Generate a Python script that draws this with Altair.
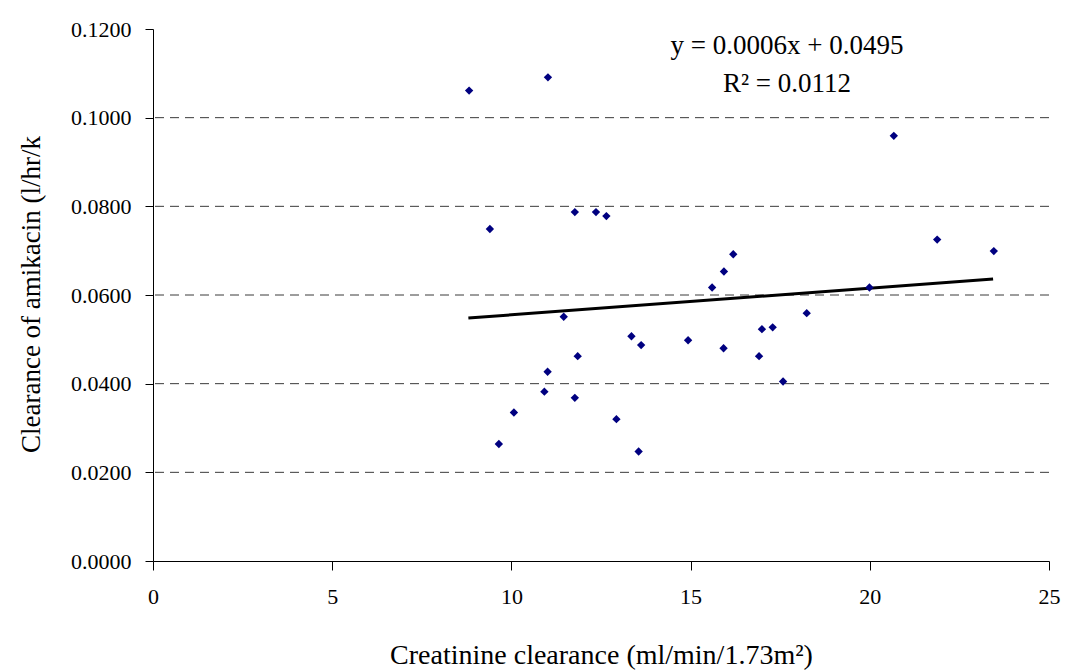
import altair as alt
import pandas as pd

# Creatinine clearance (ml/min/1.73m^2)
crcl = [8.82, 11.02, 9.40, 11.77, 12.36, 12.65, 11.46, 11.85, 11.01, 10.92,
        11.77, 10.07, 9.65, 12.93, 13.55, 13.35, 13.62, 14.93, 15.92, 15.60,
        15.93, 16.19, 16.99, 17.29, 16.91, 17.58, 18.24, 19.99, 20.67, 21.88,
        23.46]
# Clearance of amikacin
amik = [0.1061, 0.1091, 0.0749, 0.0787, 0.0787, 0.0778, 0.0551, 0.0462, 0.0427, 0.0382,
        0.0368, 0.0335, 0.0264, 0.0320, 0.0247, 0.0507, 0.0487, 0.0498, 0.0480, 0.0617,
        0.0653, 0.0692, 0.0523, 0.0527, 0.0462, 0.0405, 0.0559, 0.0617, 0.0959, 0.0725,
        0.0699]

# Trend line end points
trend_x = [8.80, 23.44]
trend_y = [0.0548, 0.0636]

eq_line1 = "y = 0.0006x + 0.0495"
eq_line2 = "R² = 0.0112"

x_ticks = [0, 5, 10, 15, 20, 25]
y_ticks = [0.0, 0.02, 0.04, 0.06, 0.08, 0.10, 0.12]

pts = pd.DataFrame({"x": crcl, "y": amik})
trend = pd.DataFrame({"x": trend_x, "y": trend_y})

FONT = "Liberation Serif"

xscale = alt.Scale(domain=[0, 25], nice=False, zero=True)
yscale = alt.Scale(domain=[0, 0.12], nice=False, zero=True)

xaxis = alt.Axis(values=x_ticks, format="d", grid=False, domainColor="black",
                 tickColor="black", tickSize=9, labelPadding=16, labelFontSize=22,
                 labelFont=FONT, labelColor="black", labelFontWeight="normal",
                 labelFlush=False,
                 title="Creatinine clearance (ml/min/1.73m²)", titleFont=FONT,
                 titleFontSize=28, titleFontWeight="normal", titleColor="black",
                 titleX=448, titleY=94, titleBaseline="middle", titleAlign="center",
                 titleAnchor="middle")
yaxis = alt.Axis(values=y_ticks, format=".4f", grid=False, domainColor="black",
                 tickColor="black", tickSize=8, labelPadding=14, labelFontSize=22,
                 labelFont=FONT, labelColor="black", labelBaseline="middle",
                 labelFlush=False, orient="left",
                 title="Clearance of amikacin (l/hr/k", titleFont=FONT,
                 titleFontSize=27, titleFontWeight="normal", titleColor="black",
                 titleX=-122, titleY=265, titleAngle=-90, titleBaseline="middle",
                 titleAlign="center", titleAnchor="middle")

grid_df = pd.DataFrame({"y": y_ticks[1:-1]})
grid = alt.Chart(grid_df).mark_rule(color="#3a3a3a", strokeWidth=1, strokeDash=[9, 6]).encode(
    y=alt.Y("y:Q", scale=yscale, axis=yaxis)
)

points = alt.Chart(pts).mark_point(shape="diamond", filled=True, color="#000080",
                                   size=70, opacity=1).encode(
    x=alt.X("x:Q", scale=xscale, axis=xaxis),
    y=alt.Y("y:Q", scale=yscale, axis=yaxis),
)

line = alt.Chart(trend).mark_line(color="black", strokeWidth=3).encode(
    x=alt.X("x:Q", scale=xscale, axis=xaxis),
    y=alt.Y("y:Q", scale=yscale, axis=yaxis),
)

eq1 = alt.Chart(pd.DataFrame({"t": [eq_line1]})).mark_text(
    font=FONT, fontSize=27, color="black", align="center", baseline="middle"
).encode(text="t:N", x=alt.value(634), y=alt.value(17))
eq2 = alt.Chart(pd.DataFrame({"t": [eq_line2]})).mark_text(
    font=FONT, fontSize=27, color="black", align="center", baseline="middle"
).encode(text="t:N", x=alt.value(634), y=alt.value(55))

chart = alt.layer(grid, line, points, eq1, eq2).properties(
    width=896, height=532,
    autosize=alt.AutoSizeParams(type="none"),
    padding={"left": 153, "top": 29, "right": 21, "bottom": 110},
    background="white",
).configure_view(stroke=None)

chart.save("out.html", embed_options={"renderer": "svg", "actions": False})
